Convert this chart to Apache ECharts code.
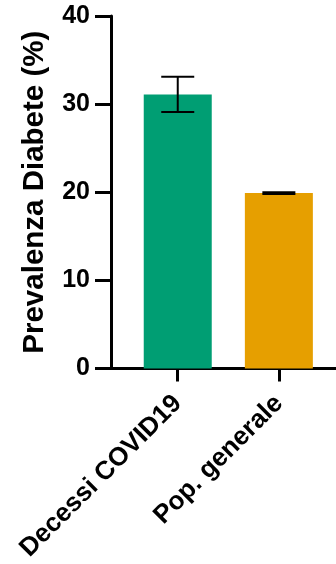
<!DOCTYPE html>
<html>
<head>
<meta charset="utf-8">
<style>
html,body{margin:0;padding:0;background:#fff;}
#chart{width:336px;height:564px;}
</style>
<script src="https://cdn.jsdelivr.net/npm/echarts@6/dist/echarts.min.js"></script>
</head>
<body>
<div id="chart"></div>
<script>
var categories = ['Decessi COVID19', 'Pop. generale'];
var values = [31.1, 19.9];
var errLow = [29.1, 19.8];
var errHigh = [33.1, 20.0];
var colors = ['#009E73', '#E69F00'];
var yTicks = [0, 10, 20, 30, 40];
var yTitle = 'Prevalenza Diabete (%)';

var font = '"Liberation Sans", Arial, Helvetica, sans-serif';
var idx = categories.map(function (c, i) { return i; });

var chart = echarts.init(document.getElementById('chart'), null, {renderer: 'canvas'});
chart.setOption({
  animation: false,
  backgroundColor: '#fff',
  grid: {left: 111, right: 0, top: 16, bottom: 194, containLabel: false},
  xAxis: {
    type: 'value',
    min: -0.66,
    max: 1.565,
    splitLine: {show: false},
    axisLine: {show: true, onZero: false, lineStyle: {color: '#000', width: 3}},
    axisTick: {show: true, customValues: idx, length: 13, inside: false, lineStyle: {color: '#000', width: 3}},
    axisLabel: {
      show: true,
      customValues: idx,
      rotate: 45,
      margin: 31,
      color: '#000',
      fontFamily: font,
      fontWeight: 'bold',
      fontSize: 26,
      formatter: function (v) { return categories[Math.round(v)] || ''; }
    }
  },
  yAxis: {
    type: 'value',
    min: 0,
    max: 40,
    interval: 10,
    name: yTitle,
    nameLocation: 'middle',
    nameGap: 61,
    nameRotate: 90,
    nameTextStyle: {color: '#000', fontFamily: font, fontWeight: 'bold', fontSize: 29.5},
    splitLine: {show: false},
    axisLine: {show: true, onZero: false, lineStyle: {color: '#000', width: 3}},
    axisTick: {show: true, length: 16, lineStyle: {color: '#000', width: 3}},
    axisLabel: {
      margin: 21,
      color: '#000',
      fontFamily: font,
      fontWeight: 'bold',
      fontSize: 25,
      customValues: yTicks
    }
  },
  series: [
    {
      type: 'bar',
      barWidth: 68,
      data: values.map(function (v, i) {
        return {value: [i, v], itemStyle: {color: colors[i]}};
      }),
      z: 2
    },
    {
      type: 'custom',
      z: 3,
      data: values.map(function (v, i) { return [i, errLow[i], errHigh[i]]; }),
      renderItem: function (params, api) {
        var x = api.value(0);
        var lo = api.coord([x, api.value(1)]);
        var hi = api.coord([x, api.value(2)]);
        var hw = 16.5;
        var style = {stroke: '#000', lineWidth: 2};
        return {
          type: 'group',
          children: [
            {type: 'line', shape: {x1: lo[0], y1: lo[1], x2: hi[0], y2: hi[1]}, style: style},
            {type: 'line', shape: {x1: hi[0] - hw, y1: hi[1], x2: hi[0] + hw, y2: hi[1]}, style: style},
            {type: 'line', shape: {x1: lo[0] - hw, y1: lo[1], x2: lo[0] + hw, y2: lo[1]}, style: style}
          ]
        };
      }
    }
  ]
});
</script>
</body>
</html>
